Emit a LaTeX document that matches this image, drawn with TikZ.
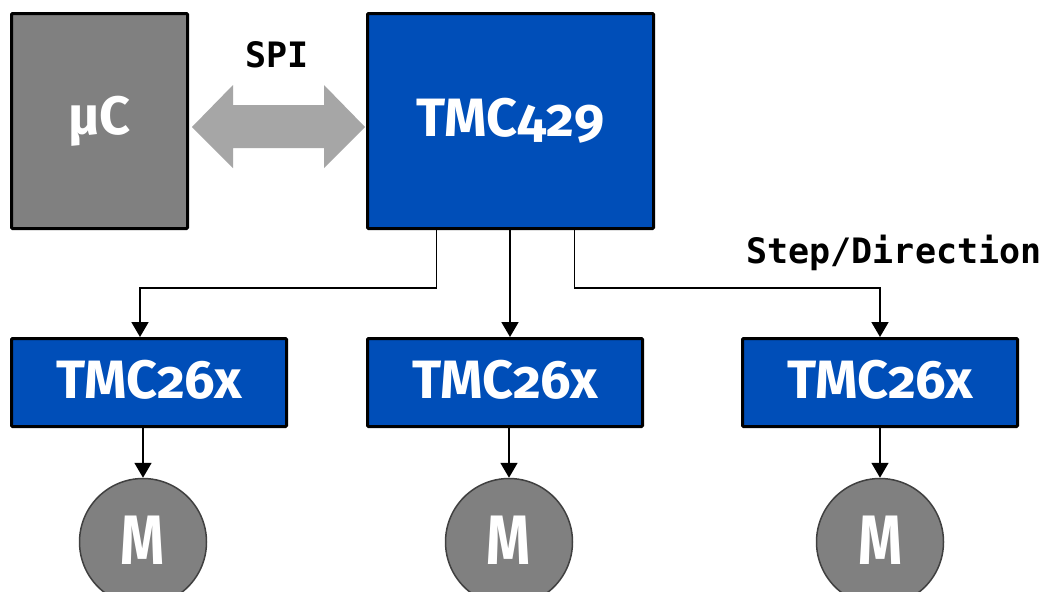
\documentclass[tikz,border=0pt]{standalone}
\usepackage{fontspec}
\usetikzlibrary{arrows.meta,calc}
\newfontfamily\lblfont[Numbers=OldStyle]{Fira Sans}
\newfontfamily\motfont[FakeStretch=0.8]{Fira Sans}
\newfontfamily\monolbl{DejaVu Sans Mono}
\definecolor{tmcblue}{RGB}{0,78,184}
\definecolor{ucgray}{RGB}{128,128,128}
\definecolor{spigray}{RGB}{166,166,166}
\definecolor{motgray}{RGB}{128,128,128}
\newcommand{\upby}[2]{\raisebox{#1}{#2}}
\tikzset{
  chipbox/.style={draw=black, line width=3pt, rounded corners=1pt, inner sep=0pt,
    text=white, font=\lblfont\bfseries\fontsize{54}{62}\selectfont},
  motor/.style={circle, draw=black!75, line width=1.5pt, fill=motgray, inner sep=0pt,
    minimum size=127pt, text=white, font=\motfont\bfseries\fontsize{70}{80}\selectfont},
  conn/.style={draw=black, line width=1.8pt, -{Triangle[length=15pt,width=17pt]}},
  monotext/.style={font=\monolbl\bfseries\fontsize{35}{42}\selectfont, text=black, inner sep=0pt},
}
\begin{document}
\begin{tikzpicture}[x=1pt,y=-1pt]
\useasboundingbox (0,0) rectangle (1045,592);
\fill[white] (0,0) rectangle (1045,592);
% top boxes
\node[chipbox, fill=ucgray, minimum width=176pt, minimum height=215pt] (uc) at (99.5,121) {\upby{3pt}{µC}};
\node[chipbox, fill=tmcblue, minimum width=286pt, minimum height=215pt] (tmc) at (510.5,121) {\upby{6pt}{TMC429}};
% driver boxes
\node[chipbox, fill=tmcblue, minimum width=275pt, minimum height=88pt] (d1) at (149,382.5) {\upby{6pt}{TMC26x}};
\node[chipbox, fill=tmcblue, minimum width=275pt, minimum height=88pt] (d2) at (505,382.5) {\upby{6pt}{TMC26x}};
\node[chipbox, fill=tmcblue, minimum width=275pt, minimum height=88pt] (d3) at (880,382.5) {\upby{6pt}{TMC26x}};
% motors
\node[motor] (m1) at (143,542) {\upby{4pt}{M}};
\node[motor] (m2) at (509,542) {\upby{4pt}{M}};
\node[motor] (m3) at (880,542) {\upby{4pt}{M}};
% SPI arrow
\fill[spigray] ([xshift=3pt,yshift=-6pt]uc.east) -- ++(41,-42) -- ++(0,20) -- ++(91,0) -- ++(0,-20)
  -- ([xshift=-1pt,yshift=-6pt]tmc.west) -- ++(-41,41) -- ++(0,-20) -- ++(-91,0) -- ++(0,20) -- cycle;
\node[monotext] (spi) at (277,55) {SPI};
\node[monotext, anchor=base] (sd) at (894,263) {Step/Direction};
% connectors
\draw[conn] ([xshift=-74pt]tmc.south) -- ++(0,58) -| ([xshift=-9pt]d1.north);
\draw[conn] ([xshift=-0.5pt]tmc.south) -- ([xshift=-0.5pt]tmc.south |- d2.north);
\draw[conn] ([xshift=64pt]tmc.south) -- ++(0,58) -| (d3.north);
\draw[conn] (d1.south -| m1.north) -- (m1.north);
\draw[conn] (d2.south -| m2.north) -- (m2.north);
\draw[conn] (d3.south -| m3.north) -- (m3.north);
\end{tikzpicture}
\end{document}
